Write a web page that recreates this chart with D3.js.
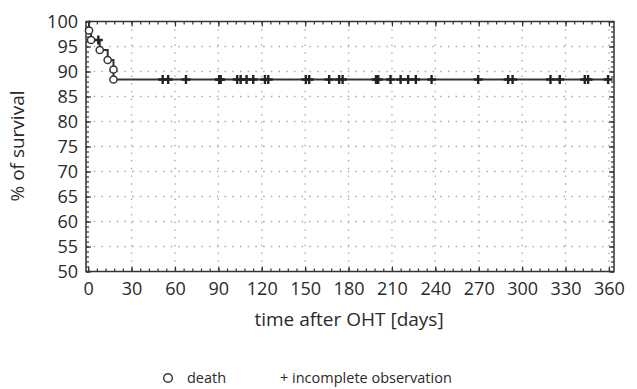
<!DOCTYPE html>
<html>
  <head>
    <meta charset="UTF-8" />
    <script src="https://d3js.org/d3.v7.min.js"></script>
    <style>
      body { margin: 0; background: #fff; }
      text { font-family: "Open Sans", sans-serif; fill: #2a2a2a; }
    </style>
  </head>
  <body>
    <div id="chart"></div>
    <script>
      // tick labels
      var xTicks = [0, 30, 60, 90, 120, 150, 180, 210, 240, 270, 300, 330, 360];
      var yTicks = [50, 55, 60, 65, 70, 75, 80, 85, 90, 95, 100];

      // deaths (day, % surviving after the event)
      var deathDays = [0.6, 2, 8, 13.5, 17.5, 17.5];
      var deathSurv = [98.2, 96.3, 94.3, 92.3, 90.4, 88.4];

      // incomplete observations (censored)
      var censorDays = [7, 51.5, 55.3, 67.6, 90.6, 91.6, 103, 105.4, 109.5, 114.1,
        122.2, 124.5, 150.5, 152.8, 166.6, 173.5, 175.9, 199, 200.5, 209, 216,
        221.2, 226.5, 237.4, 269.6, 290.3, 293.4, 319.6, 326, 343.3, 345.6, 359.4];
      var censorSurv = [96.3, 88.4, 88.4, 88.4, 88.4, 88.4, 88.4, 88.4, 88.4, 88.4,
        88.4, 88.4, 88.4, 88.4, 88.4, 88.4, 88.4, 88.4, 88.4, 88.4, 88.4,
        88.4, 88.4, 88.4, 88.4, 88.4, 88.4, 88.4, 88.4, 88.4, 88.4, 88.4];

      var width = 637, height = 389;
      var pLeft = 86, pRight = 614, pTop = 21.5, pBottom = 271.5;

      var svg = d3.select("#chart").append("svg")
        .attr("width", width).attr("height", height);

      var x = d3.scaleLinear().domain([-1.5, 363.5]).range([pLeft, pRight]);
      var y = d3.scaleLinear().domain([50, 100]).range([pBottom, pTop]);

      // dotted grid
      var grid = svg.append("g")
        .attr("stroke", "#aaa").attr("stroke-width", 1.3)
        .attr("stroke-dasharray", "1.5,6.2");
      grid.selectAll(".gx").data(xTicks.slice(1)).enter().append("line")
        .attr("x1", d => x(d)).attr("x2", d => x(d))
        .attr("y1", pTop).attr("y2", pBottom);
      grid.selectAll(".gy").data(yTicks.slice(1, -1)).enter().append("line")
        .attr("x1", pLeft).attr("x2", pRight)
        .attr("y1", d => y(d)).attr("y2", d => y(d));

      // inward ruler ticks on all four sides
      var minorX = d3.range(0, 361, 6), minorY = d3.range(50, 101, 1);
      function inner(g, axis, vals, size) {
        g.call(axis.tickValues(vals).tickSize(size).tickFormat(""))
          .call(s => s.select(".domain").remove())
          .selectAll("line").attr("stroke", "#333").attr("stroke-width", 1.2);
      }
      [[d3.axisBottom, pBottom], [d3.axisTop, pTop]].forEach(function (a) {
        var g = svg.append("g").attr("transform", "translate(0," + a[1] + ")");
        inner(g.append("g"), a[0](x), minorX, -3);
        inner(g.append("g"), a[0](x), xTicks, -5);
      });
      [[d3.axisLeft, pLeft], [d3.axisRight, pRight]].forEach(function (a) {
        var g = svg.append("g").attr("transform", "translate(" + a[1] + ",0)");
        inner(g.append("g"), a[0](y), minorY, -3);
        inner(g.append("g"), a[0](y), yTicks, -5);
      });

      // frame
      svg.append("rect")
        .attr("x", pLeft).attr("y", pTop)
        .attr("width", pRight - pLeft).attr("height", pBottom - pTop)
        .attr("fill", "none").attr("stroke", "#333").attr("stroke-width", 1.5);

      // tick labels
      svg.append("g").attr("transform", "translate(0," + pBottom + ")")
        .call(d3.axisBottom(x).tickValues(xTicks).tickSize(0).tickPadding(11))
        .call(g => g.select(".domain").remove())
        .selectAll("text").style("font-size", "18px").attr("fill", "#2a2a2a");
      svg.append("g").attr("transform", "translate(" + pLeft + ",0)")
        .call(d3.axisLeft(y).tickValues(yTicks).tickSize(0).tickPadding(8))
        .call(g => g.select(".domain").remove())
        .selectAll("text").style("font-size", "18px").attr("fill", "#2a2a2a");

      // survival step curve
      var pts = [{ d: 0, s: 100 }];
      deathDays.forEach((d, i) => pts.push({ d: d, s: deathSurv[i] }));
      censorDays.forEach((d, i) => pts.push({ d: d, s: censorSurv[i] }));
      pts.sort((a, b) => a.d - b.d || b.s - a.s);

      svg.append("path").datum(pts)
        .attr("fill", "none").attr("stroke", "#333").attr("stroke-width", 2)
        .attr("d", d3.line().x(p => x(p.d)).y(p => y(p.s)).curve(d3.curveStepAfter));

      svg.append("g").selectAll("path").data(censorDays).enter().append("path")
        .attr("d", (d, i) => "M" + (x(d) - 4.5) + "," + y(censorSurv[i]) + "h9M" + x(d) + "," + (y(censorSurv[i]) - 4.5) + "v9")
        .attr("stroke", "#222").attr("stroke-width", 2.4);

      svg.append("g").selectAll("circle").data(deathDays).enter().append("circle")
        .attr("cx", d => x(d)).attr("cy", (d, i) => y(deathSurv[i]))
        .attr("r", 3.6).attr("fill", "#fff").attr("stroke", "#333").attr("stroke-width", 1.5);

      // axis titles
      svg.append("text").attr("x", 349).attr("y", 326)
        .attr("text-anchor", "middle").style("font-size", "19px")
        .text("time after OHT [days]");
      svg.append("text").attr("transform", "translate(24,146) rotate(-90)")
        .attr("text-anchor", "middle").style("font-size", "19px")
        .text("% of survival");

      // legend
      svg.append("circle").attr("cx", 168).attr("cy", 378).attr("r", 4.3)
        .attr("fill", "none").attr("stroke", "#333").attr("stroke-width", 1.4);
      svg.append("text").attr("x", 187).attr("y", 383).style("font-size", "14.5px").text("death");
      svg.append("text").attr("x", 280).attr("y", 383).style("font-size", "14.5px").text("+ incomplete observation");
    </script>
  </body>
</html>
